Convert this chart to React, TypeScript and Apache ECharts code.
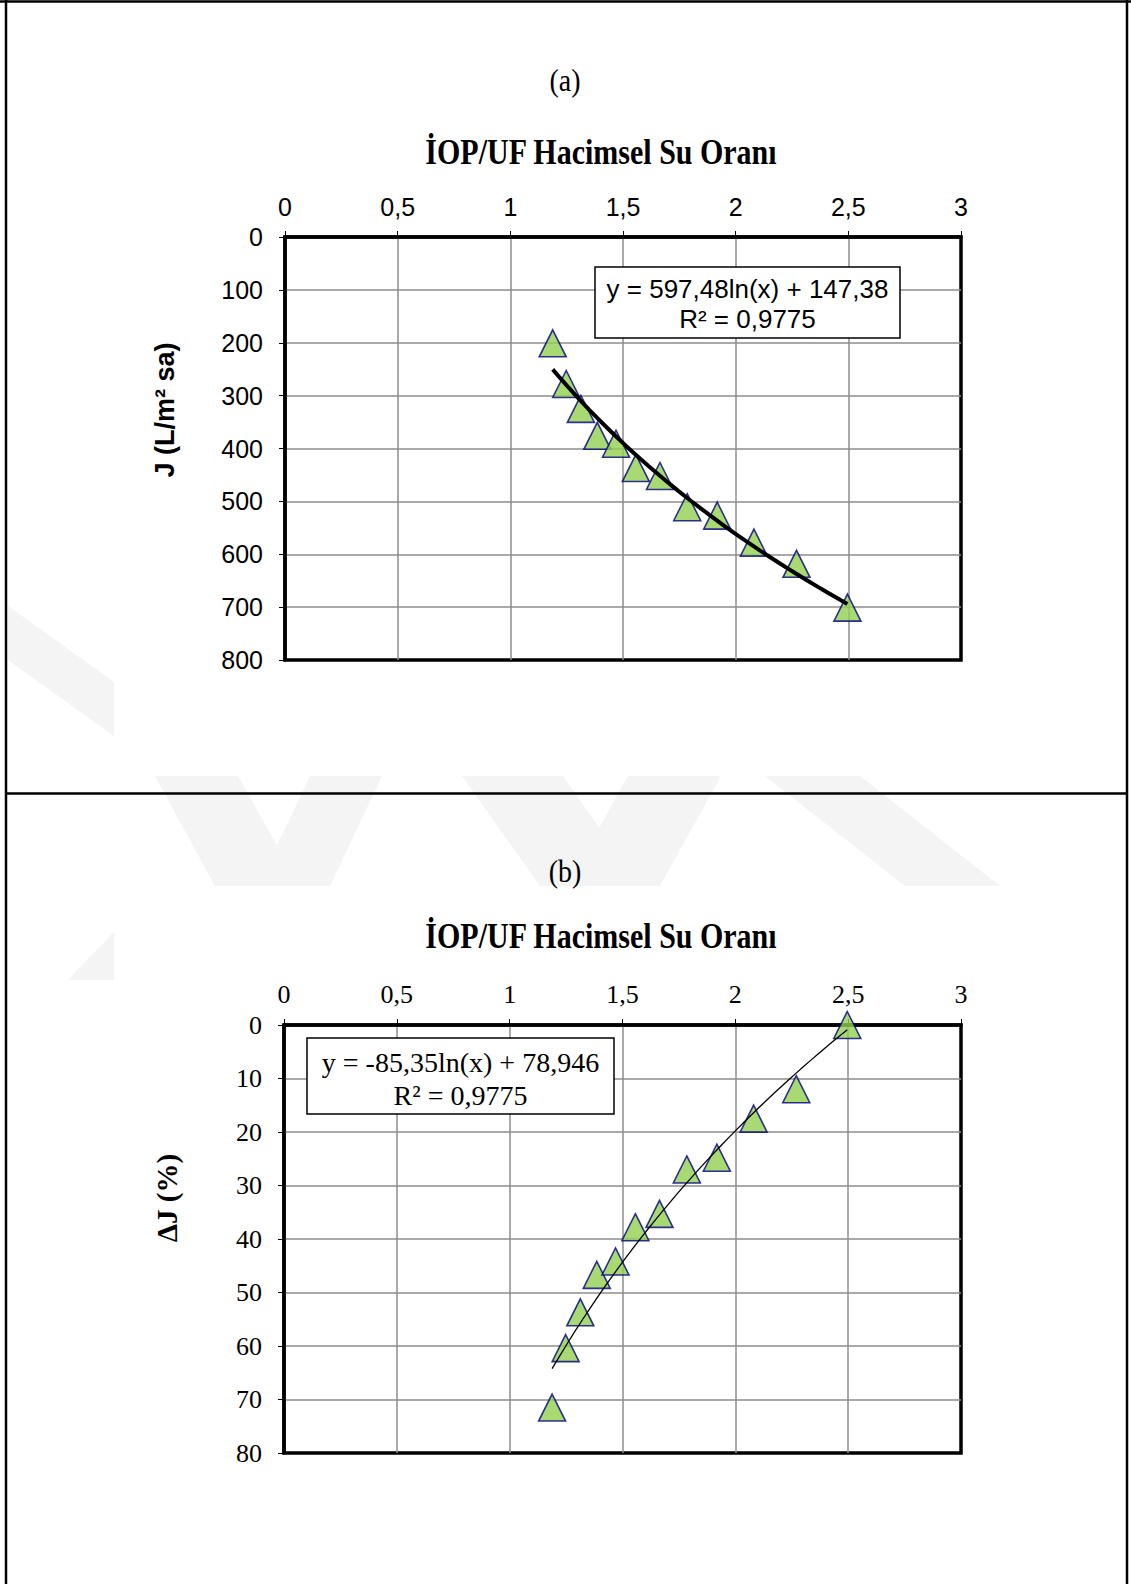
import React, { useEffect, useRef } from "react";
import * as echarts from "echarts";

// Volumetric water ratio (İOP/UF) for each measurement
const ratioX = [1.188, 1.248, 1.313, 1.386, 1.469, 1.557, 1.664, 1.785, 1.918, 2.081, 2.27, 2.496];
// (a) flux J (L/m² sa)
const fluxJ = [201, 278, 325, 376, 391, 437, 452, 511, 527, 578, 618, 701];
// (b) flux decline ΔJ (%)
const deltaJ = [71.5, 60.4, 53.7, 46.7, 44.2, 37.8, 35.3, 27.0, 24.8, 17.5, 12.0, 0];

// Trendline coefficients as printed in the chart: y = slope·ln(x) + intercept
const fitA = { slope: 597.48, intercept: 147.38 };
const fitB = { slope: -85.35, intercept: 78.946 };

const eqA = ["y = 597,48ln(x) + 147,38", "R² = 0,9775"];
const eqB = ["y = -85,35ln(x) + 78,946", "R² = 0,9775"];
const titleText = "İOP/UF Hacimsel Su Oranı";
const labelA = "(a)";
const labelB = "(b)";
const yNameA = "J (L/m² sa)";
const yNameB = "ΔJ (%)";

const xMin = 0, xMax = 3, xStep = 0.5;
const yAMin = 0, yAMax = 800, yAStep = 100;
const yBMin = 0, yBMax = 80, yBStep = 10;

function trend(fit: { slope: number; intercept: number }) {
  const lo = Math.min(...ratioX);
  const hi = Math.max(...ratioX);
  const n = 40;
  const pts: number[][] = [];
  for (let i = 0; i <= n; i++) {
    const x = lo + ((hi - lo) * i) / n;
    pts.push([x, fit.slope * Math.log(x) + fit.intercept]);
  }
  return pts;
}

const comma = (v: number) => String(v).replace(".", ",");

export default function App() {
  const ref = useRef<HTMLDivElement>(null);
  useEffect(() => {
    if (!ref.current) return;
    const chart = echarts.init(ref.current, null, { renderer: "svg" });
    const ARIAL = "Liberation Sans, Arial, sans-serif";
    const TIMES = "Liberation Serif, Times New Roman, serif";
    const gridLine = { show: true, showMinLine: false, showMaxLine: false, lineStyle: { color: "#8c8c8c", width: 1.5 } };
    const axisLine = { show: true, onZero: false, lineStyle: { color: "#000", width: 3.5 } };
    const axisTick = { show: true, inside: false, length: 6, lineStyle: { color: "#000", width: 1 } };

    const mkX = (gi: number, font: string, size: number) => ({
      type: "value",
      gridIndex: gi,
      position: "top",
      min: xMin,
      max: xMax,
      interval: xStep,
      axisLine,
      axisTick,
      splitLine: gridLine,
      axisLabel: { color: "#000", fontSize: size, fontFamily: font, margin: 18, formatter: comma },
    });
    const mkY = (gi: number, font: string, size: number, min: number, max: number, step: number) => ({
      type: "value",
      gridIndex: gi,
      inverse: true,
      min,
      max,
      interval: step,
      axisLine,
      axisTick,
      splitLine: gridLine,
      axisLabel: { color: "#000", fontSize: size, fontFamily: font, margin: 22, formatter: comma },
    });

    const scatterStyle = {
      symbol: "triangle",
      symbolSize: 27,
      itemStyle: { color: "#92D050", borderColor: "#000080", borderWidth: 1.6 },
    };

    const eqBox = (x: number, y: number, w: number, h: number, lines: string[], font: string, size: number, l1: number, l2: number) => [
      { type: "rect", shape: { x, y, width: w, height: h }, style: { fill: "#fff", stroke: "#000", lineWidth: 1.5 }, z: 50 },
      { type: "text", x: x + w / 2, y: l1, style: { text: lines[0], fontSize: size, fontFamily: font, fill: "#000", align: "center", verticalAlign: "middle" }, z: 51 },
      { type: "text", x: x + w / 2, y: l2, style: { text: lines[1], fontSize: size, fontFamily: font, fill: "#000", align: "center", verticalAlign: "middle" }, z: 51 },
    ];

    const frame = (x1: number, y1: number, x2: number, y2: number) => ({
      type: "line",
      shape: { x1, y1, x2, y2 },
      style: { stroke: "#000", lineWidth: 2.5 },
      z: 60,
    });

    const WM = "#f4f4f4";
    const wm = (pts: number[][]) => ({ type: "polygon", shape: { points: pts }, style: { fill: WM }, z: -10, silent: true });

    chart.setOption({
      animation: false,
      backgroundColor: "#fff",
      grid: [
        { left: 285, top: 237, width: 676, height: 423, show: true, borderColor: "#000", borderWidth: 3.5, backgroundColor: "transparent" },
        { left: 284, top: 1025, width: 677, height: 428, show: true, borderColor: "#000", borderWidth: 3.5, backgroundColor: "transparent" },
      ],
      xAxis: [mkX(0, ARIAL, 25), mkX(1, TIMES, 26)],
      yAxis: [mkY(0, ARIAL, 25, yAMin, yAMax, yAStep), mkY(1, TIMES, 26, yBMin, yBMax, yBStep)],
      series: [
        { type: "scatter", xAxisIndex: 0, yAxisIndex: 0, data: ratioX.map((x, i) => [x, fluxJ[i]]), ...scatterStyle, z: 3 },
        { type: "line", xAxisIndex: 0, yAxisIndex: 0, data: trend(fitA), showSymbol: false, symbol: "none", lineStyle: { color: "#000", width: 4 }, z: 4 },
        { type: "scatter", xAxisIndex: 1, yAxisIndex: 1, data: ratioX.map((x, i) => [x, deltaJ[i]]), ...scatterStyle, z: 3 },
        { type: "line", xAxisIndex: 1, yAxisIndex: 1, data: trend(fitB), showSymbol: false, symbol: "none", lineStyle: { color: "#000", width: 1.3 }, z: 4 },
      ],
      graphic: [
        // faint watermark pieces visible in the margins
        wm([[8, 606], [114, 682], [114, 736], [8, 660]]),
        wm([[155, 776], [238, 776], [300, 886], [215, 886]]),
        wm([[310, 776], [382, 776], [330, 886], [258, 886]]),
        wm([[462, 776], [563, 776], [640, 886], [540, 886]]),
        wm([[628, 776], [721, 776], [660, 886], [567, 886]]),
        wm([[765, 776], [860, 776], [1000, 886], [905, 886]]),
        wm([[114, 932], [114, 980], [68, 980]]),
        frame(0, 1.5, 1131, 1.5),
        frame(6, 0, 6, 1584),
        frame(1127, 0, 1127, 1584),
        frame(6, 793.5, 1127, 793.5),
        { type: "text", x: 565, y: 80, scaleY: 1.15, style: { text: labelA, fontSize: 28, fontFamily: TIMES, fill: "#000", align: "center", verticalAlign: "middle" } },
        { type: "text", x: 601, y: 152, scaleY: 1.2, style: { text: titleText, fontSize: 30, fontWeight: "bold", fontFamily: TIMES, fill: "#000", align: "center", verticalAlign: "middle" } },
        { type: "text", x: 165, y: 410, rotation: Math.PI / 2, style: { text: yNameA, fontSize: 27, fontWeight: "bold", fontFamily: ARIAL, fill: "#000", align: "center", verticalAlign: "middle" } },
        { type: "text", x: 565, y: 871, scaleY: 1.15, style: { text: labelB, fontSize: 28, fontFamily: TIMES, fill: "#000", align: "center", verticalAlign: "middle" } },
        { type: "text", x: 601, y: 936, scaleY: 1.2, style: { text: titleText, fontSize: 30, fontWeight: "bold", fontFamily: TIMES, fill: "#000", align: "center", verticalAlign: "middle" } },
        { type: "text", x: 167, y: 1198, rotation: Math.PI / 2, style: { text: yNameB, fontSize: 29, fontWeight: "bold", fontFamily: TIMES, fill: "#000", align: "center", verticalAlign: "middle" } },
        ...eqBox(595, 267, 305, 71, eqA, ARIAL, 26, 289, 319),
        ...eqBox(307, 1038, 307, 76, eqB, TIMES, 28, 1062, 1095),
      ],
    });
    return () => chart.dispose();
  }, []);
  return <div ref={ref} style={{ position: "absolute", left: 0, top: 0, width: 1131, height: 1584 }} />;
}
